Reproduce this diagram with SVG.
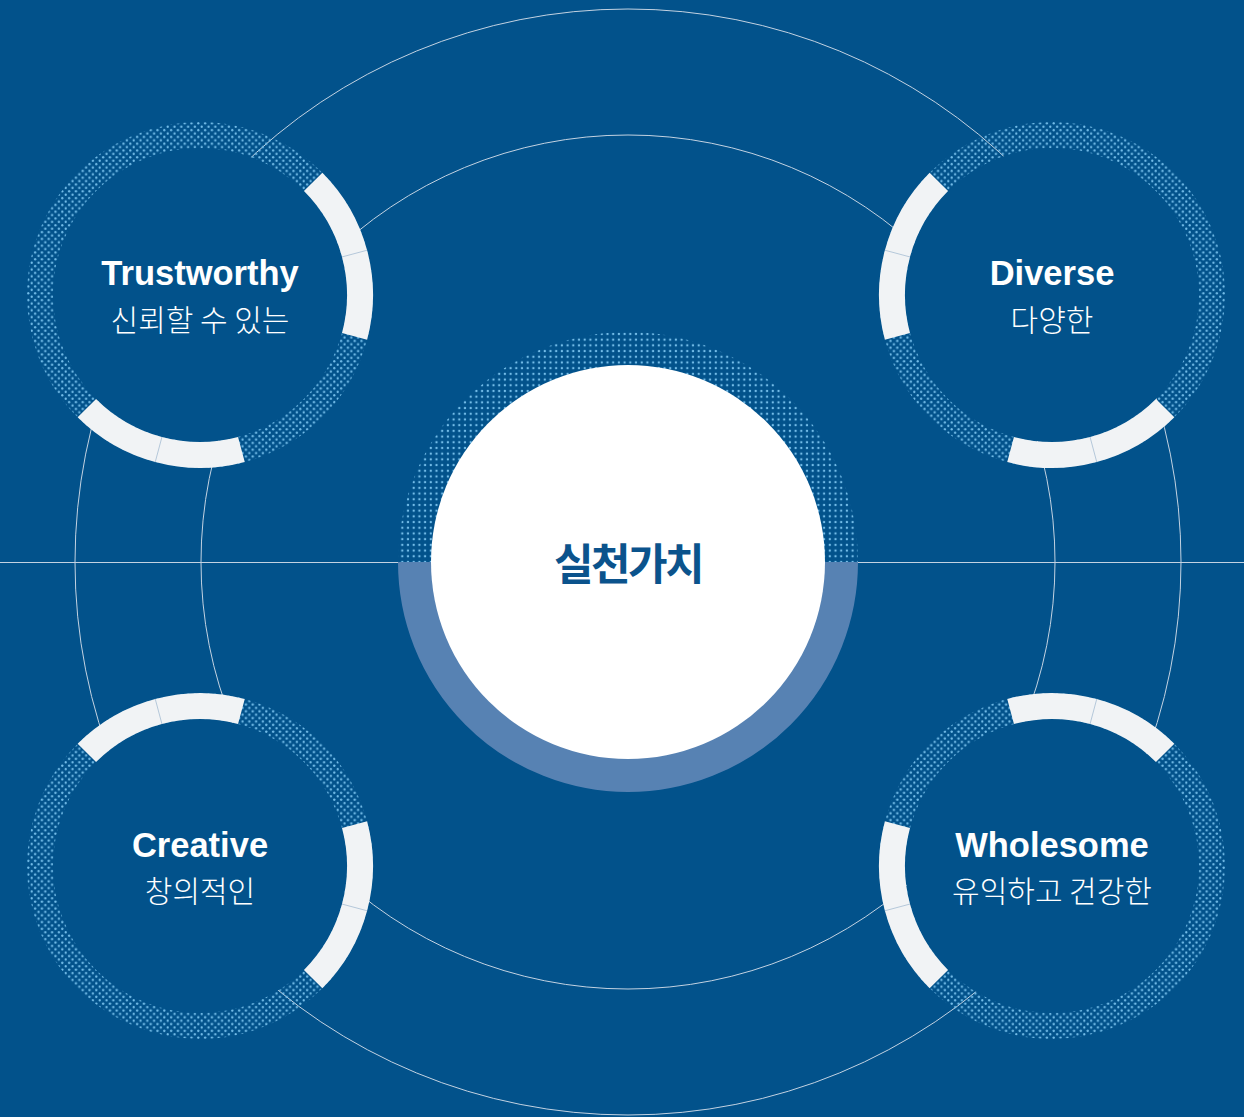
<svg xmlns="http://www.w3.org/2000/svg" xmlns:xlink="http://www.w3.org/1999/xlink" width="1244" height="1117" viewBox="0 0 1244 1117">
  <style>
    .conn { fill: none; stroke: #c3d2e2; stroke-width: 1; }
    .en { font-family: "Liberation Sans", Arial, sans-serif; font-weight: bold; font-size: 34.5px; fill: #ffffff; text-anchor: middle; }
    .ko { font-family: "Noto Sans CJK KR", "Noto Sans", sans-serif; font-weight: 300; font-size: 30px; fill: #ffffff; text-anchor: middle; }
    .center { font-family: "Noto Sans CJK KR", sans-serif; font-weight: bold; font-size: 43px; fill: #0b538c; text-anchor: middle; letter-spacing: -2.5px; }
    .white-arc { fill: none; stroke: #f1f3f5; stroke-width: 26; }
    .divider { stroke: #b5c8da; stroke-width: 1; }
  </style>
  <defs>
    <pattern id="dots" patternUnits="userSpaceOnUse" width="6.8" height="6.8">
      <circle cx="1.7" cy="1.7" r="1.15" fill="#74bde9"/>
      <circle cx="5.1" cy="5.1" r="1.15" fill="#74bde9"/>
    </pattern>
    <pattern id="dots2" patternUnits="userSpaceOnUse" width="5.7" height="5.7" x="0.5" y="0.5">
      <circle cx="2.8" cy="2.8" r="1.2" fill="#74bde9"/>
    </pattern>
    <g id="ring">
      <circle r="147" fill="#02528b"/>
      <circle r="160" fill="none" stroke="url(#dots)" stroke-width="26"/>
      <path class="white-arc" d="M 113.14 -113.14 A 160 160 0 0 1 154.55 41.41"/>
      <path class="white-arc" d="M 41.41 154.55 A 160 160 0 0 1 -113.14 113.14"/>
      <line class="divider" x1="141.99" y1="-38.05" x2="167.10" y2="-44.78"/>
      <line class="divider" x1="-38.05" y1="141.99" x2="-44.78" y2="167.10"/>
    </g>
  </defs>
  <rect width="1244" height="1117" fill="#02528b"/>
  <g id="connectors">
    <line class="conn" x1="0" y1="562.5" x2="1244" y2="562.5"/>
    <circle class="conn" cx="628" cy="562" r="553"/>
    <circle class="conn" cx="628" cy="562" r="427"/>
  </g>
  <g id="center-node">
    <path d="M 415 562 A 213 213 0 0 1 841 562" fill="none" stroke="url(#dots2)" stroke-width="34"/>
    <path d="M 841 562 A 213 213 0 0 1 415 562" fill="none" stroke="#5782b3" stroke-width="34"/>
    <circle cx="628" cy="562" r="197" fill="#ffffff"/>
    <text class="center" x="628" y="580">실천가치</text>
  </g>
  <g id="trustworthy">
    <use xlink:href="#ring" transform="translate(200,295)"/>
    <text class="en" x="200" y="285">Trustworthy</text>
    <text class="ko" x="200" y="331">신뢰할 수 있는</text>
  </g>
  <g id="diverse">
    <use xlink:href="#ring" transform="translate(1052,295) scale(-1,1)"/>
    <text class="en" x="1052" y="285">Diverse</text>
    <text class="ko" x="1052" y="331">다양한</text>
  </g>
  <g id="creative">
    <use xlink:href="#ring" transform="translate(200,866) scale(1,-1)"/>
    <text class="en" x="200" y="857">Creative</text>
    <text class="ko" x="200" y="902">창의적인</text>
  </g>
  <g id="wholesome">
    <use xlink:href="#ring" transform="translate(1052,866) scale(-1,-1)"/>
    <text class="en" x="1052" y="857">Wholesome</text>
    <text class="ko" x="1052" y="902">유익하고 건강한</text>
  </g>
</svg>
